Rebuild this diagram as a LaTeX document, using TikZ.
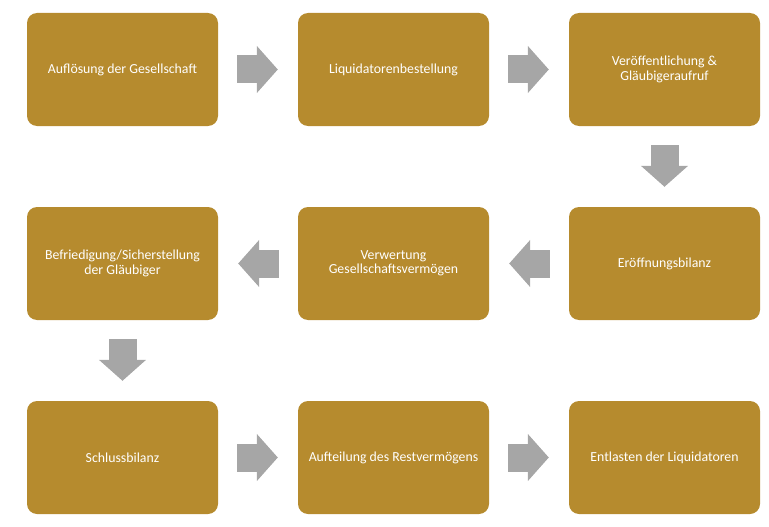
\documentclass[tikz,border=0pt]{standalone}
\usepackage{fontspec}
\setmainfont{Carlito}
\usetikzlibrary{arrows.meta}
\definecolor{boxgold}{RGB}{182,139,46}
\definecolor{arrgray}{RGB}{166,166,166}
\tikzset{
  stepbox/.style={rectangle, rounded corners=10pt, fill=boxgold, draw=none,
    minimum width=191pt, minimum height=113pt, inner sep=0pt,
    text=white, align=center, font=\fontsize{13.8pt}{14.5pt}\selectfont},
  blockarrow/.style={draw=arrgray, color=arrgray, line width=28pt,
    -{Triangle[width=46pt,length=21pt]}, shorten <=19pt, shorten >=20pt}
}
\begin{document}
\begin{tikzpicture}[x=1pt,y=-1pt]
\useasboundingbox (0,0) rectangle (769,527);
\node[stepbox] (a1) at (122.5,69.5) {Auflösung der Gesellschaft};
\node[stepbox] (a2) at (393.5,69.5) {Liquidatorenbestellung};
\node[stepbox] (a3) at (664.5,69.5) {Veröffentlichung \&\\Gläubigeraufruf};
\node[stepbox] (b3) at (664.5,263.5) {Eröffnungsbilanz};
\node[stepbox] (b2) at (393.5,263.5) {Verwertung\\Gesellschaftsvermögen};
\node[stepbox] (b1) at (122.5,263.5) {Befriedigung/Sicherstellung\\der Gläubiger};
\node[stepbox] (c1) at (122.5,457.5) {Schlussbilanz};
\node[stepbox] (c2) at (393.5,457.5) {Aufteilung des Restvermögens};
\node[stepbox] (c3) at (664.5,457.5) {Entlasten der Liquidatoren};
\draw[blockarrow] (a1) -- (a2);
\draw[blockarrow] (a2) -- (a3);
\draw[blockarrow] (a3) -- (b3);
\draw[blockarrow] (b3) -- (b2);
\draw[blockarrow] (b2) -- (b1);
\draw[blockarrow] (b1) -- (c1);
\draw[blockarrow] (c1) -- (c2);
\draw[blockarrow] (c2) -- (c3);
\end{tikzpicture}
\end{document}
